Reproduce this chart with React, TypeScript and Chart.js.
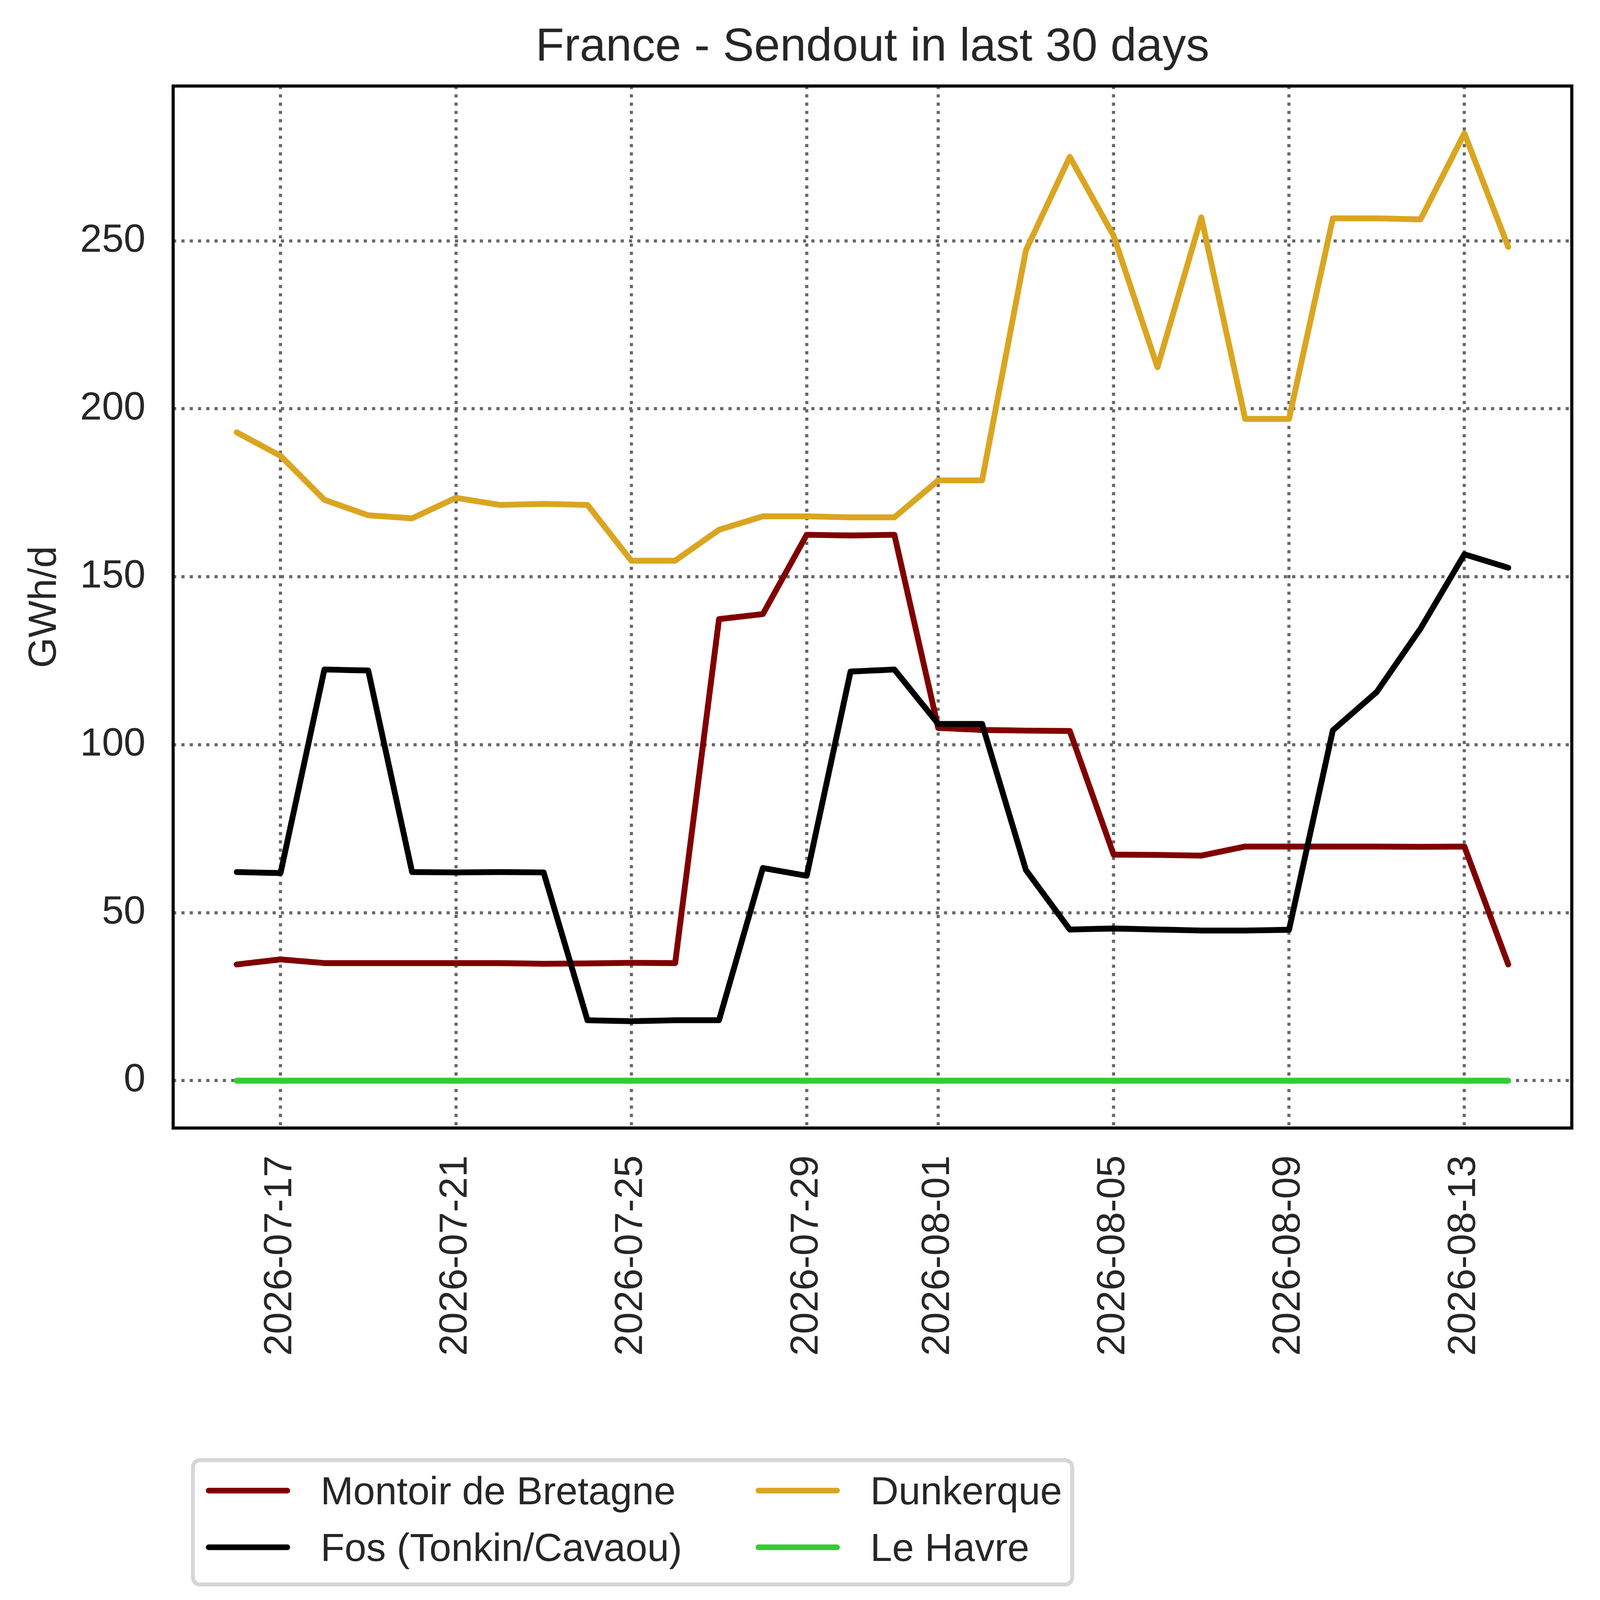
import React, { useEffect, useRef, useState } from "react";
import { Chart, registerables } from "chart.js";

Chart.register(...registerables);

const FONT = "'Liberation Sans', Arial, Helvetica, sans-serif";
const TEXT = "#262626";
const W = 5675;
const H = 5721;

const dates = [
  "2026-07-16", "2026-07-17", "2026-07-18", "2026-07-19", "2026-07-20",
  "2026-07-21", "2026-07-22", "2026-07-23", "2026-07-24", "2026-07-25",
  "2026-07-26", "2026-07-27", "2026-07-28", "2026-07-29", "2026-07-30",
  "2026-07-31", "2026-08-01", "2026-08-02", "2026-08-03", "2026-08-04",
  "2026-08-05", "2026-08-06", "2026-08-07", "2026-08-08", "2026-08-09",
  "2026-08-10", "2026-08-11", "2026-08-12", "2026-08-13", "2026-08-14",
];

const tickDates = [
  "2026-07-17", "2026-07-21", "2026-07-25", "2026-07-29",
  "2026-08-01", "2026-08-05", "2026-08-09", "2026-08-13",
];

const yTicks = [0, 50, 100, 150, 200, 250];

const seriesNames = ["Montoir de Bretagne", "Fos (Tonkin/Cavaou)", "Dunkerque", "Le Havre"];
const seriesColors = ["#800000", "#000000", "#DAA520", "#32CD32"];

const montoir = [
  34.6, 36.1, 35.0, 35.0, 35.0, 35.0, 35.0, 34.8, 34.9, 35.1,
  35.0, 137.4, 138.9, 162.5, 162.3, 162.5, 105.0, 104.4, 104.2, 104.1,
  67.3, 67.2, 67.0, 69.7, 69.7, 69.7, 69.7, 69.6, 69.7, 34.6,
];
const fos = [
  62.1, 61.8, 122.4, 122.1, 62.1, 62.0, 62.1, 62.0, 18.0, 17.7,
  18.0, 18.0, 63.3, 61.0, 121.8, 122.4, 106.2, 106.2, 62.7, 45.0,
  45.3, 45.0, 44.7, 44.7, 44.9, 104.3, 115.7, 134.6, 156.7, 152.7,
];
const dunkerque = [
  193.0, 186.0, 172.9, 168.3, 167.4, 173.5, 171.4, 171.7, 171.4, 154.8,
  154.8, 164.0, 168.0, 168.0, 167.7, 167.7, 178.7, 178.7, 247.2, 275.0,
  251.5, 212.4, 257.0, 197.0, 197.0, 256.7, 256.7, 256.4, 282.0, 248.2,
];
const leHavre = [
  0, 0, 0, 0, 0, 0, 0, 0, 0, 0,
  0, 0, 0, 0, 0, 0, 0, 0, 0, 0,
  0, 0, 0, 0, 0, 0, 0, 0, 0, 0,
];

const seriesValues = [montoir, fos, dunkerque, leHavre];

const framePlugin = {
  id: "frame",
  afterDraw(chart: any) {
    const { ctx, chartArea } = chart;
    const { left, top, right, bottom } = chartArea;
    ctx.save();
    ctx.strokeStyle = "#000000";
    ctx.lineWidth = 11.1;
    ctx.strokeRect(left, top, right - left, bottom - top);
    ctx.restore();
  },
};

function viewScale() {
  const vw = document.documentElement.clientWidth || window.innerWidth || W;
  return vw / W;
}

export default function App() {
  const ref = useRef<HTMLCanvasElement>(null);
  const [k] = useState(() => viewScale());

  useEffect(() => {
    document.body.style.margin = "0";
    document.body.style.overflow = "hidden";
    const flat = seriesValues.flat();
    const yMinD = Math.min(...flat);
    const yMaxD = Math.max(...flat);
    const yPad = (yMaxD - yMinD) * 0.05;
    const xPad = (dates.length - 1) * 0.05;

    const gridOpts = { color: "#666666", lineWidth: 11.1, drawTicks: false };
    const borderOpts = { display: false, dash: [11.1, 18.3] };
    const dpr = Math.max(1, k * (window.devicePixelRatio || 1));

    const chart = new Chart(ref.current as HTMLCanvasElement, {
      type: "line",
      data: {
        datasets: seriesValues.map((vals, j) => ({
          label: seriesNames[j],
          data: vals.map((v, i) => ({ x: i, y: v })),
          borderColor: seriesColors[j],
          backgroundColor: seriesColors[j],
          borderWidth: 20.8,
          pointRadius: 0,
          pointHoverRadius: 0,
          tension: 0,
          fill: false,
          borderJoinStyle: "round",
          borderCapStyle: "round",
          order: seriesValues.length - 1 - j,
        })),
      } as any,
      options: {
        responsive: false,
        animation: false,
        devicePixelRatio: dpr,
        events: [],
        layout: { padding: { left: 0, right: 100, top: 0, bottom: 820 } },
        plugins: {
          legend: { display: false },
          tooltip: { enabled: false },
          title: {
            display: true,
            text: "France - Sendout in last 30 days",
            fullSize: false,
            color: TEXT,
            font: { size: 166, weight: "normal", family: FONT, lineHeight: 1.2 },
            padding: { top: 70, bottom: 35.8 },
          },
        },
        scales: {
          x: {
            type: "linear",
            min: -xPad,
            max: dates.length - 1 + xPad,
            afterBuildTicks: (s: any) => {
              s.ticks = tickDates.map((d) => ({ value: dates.indexOf(d) }));
            },
            afterFit: (s: any) => {
              s.height = 900;
            },
            grid: gridOpts,
            border: borderOpts,
            ticks: {
              autoSkip: false,
              minRotation: 90,
              maxRotation: 90,
              padding: 97,
              color: TEXT,
              font: { size: 139, family: FONT },
              callback: (v: any) => dates[Math.round(Number(v))],
            },
          },
          y: {
            type: "linear",
            min: yMinD - yPad,
            max: yMaxD + yPad,
            afterBuildTicks: (s: any) => {
              s.ticks = yTicks.map((v) => ({ value: v }));
            },
            afterFit: (s: any) => {
              s.width = 614;
            },
            grid: gridOpts,
            border: borderOpts,
            ticks: {
              padding: 98,
              color: TEXT,
              font: { size: 139, family: FONT },
              callback: (v: any) => String(v),
            },
            title: {
              display: true,
              text: "GWh/d",
              color: TEXT,
              font: { size: 139, family: FONT, lineHeight: 1.2 },
              padding: { top: 76, bottom: 0 },
            },
          },
        },
      } as any,
      plugins: [framePlugin],
    });
    return () => chart.destroy();
  }, [k]);

  const colX = [730, 2680];
  const rowY = [5287, 5488];

  return (
    <div style={{ position: "fixed", left: 0, top: 0, width: "100vw", height: "100vh", overflow: "hidden", background: "#ffffff" }}>
      <div
        style={{
          position: "absolute",
          left: 0,
          top: 0,
          width: W,
          height: H,
          transform: `scale(${k})`,
          transformOrigin: "0 0",
          background: "#ffffff",
        }}
      >
        <canvas
          ref={ref}
          width={W}
          height={H}
          style={{ position: "absolute", left: 0, top: 0, width: W, height: H }}
        />
        <div
          style={{
            position: "absolute",
            left: 677,
            top: 5172,
            width: 3133,
            height: 455,
            boxSizing: "border-box",
            border: "14px solid #d6d6d6",
            borderRadius: 33,
            background: "rgba(255,255,255,0.8)",
          }}
        />
        {seriesNames.map((name, j) => {
          const col = Math.floor(j / 2);
          const row = j % 2;
          return (
            <React.Fragment key={name}>
              <div
                style={{
                  position: "absolute",
                  left: colX[col],
                  top: rowY[row] - 10.4,
                  width: 299,
                  height: 20.8,
                  borderRadius: 10.4,
                  background: seriesColors[j],
                }}
              />
              <div
                style={{
                  position: "absolute",
                  left: colX[col] + 407,
                  top: rowY[row] - 69.7,
                  fontFamily: FONT,
                  fontSize: 139,
                  lineHeight: "139px",
                  color: TEXT,
                  whiteSpace: "nowrap",
                }}
              >
                {name}
              </div>
            </React.Fragment>
          );
        })}
      </div>
    </div>
  );
}
